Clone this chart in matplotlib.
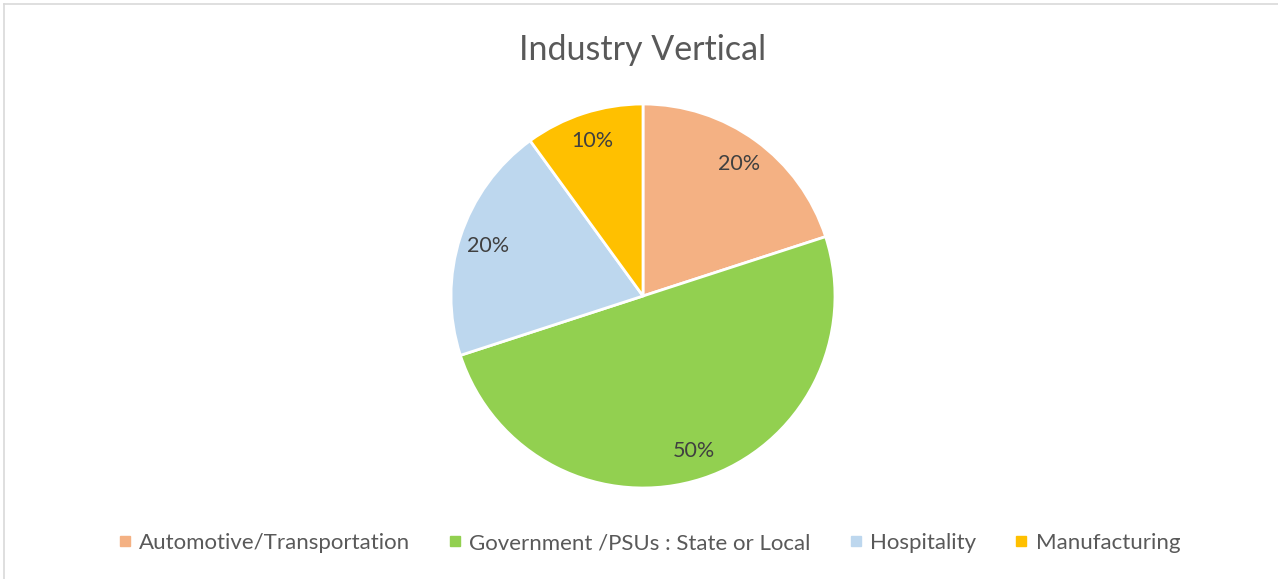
import matplotlib
matplotlib.use("Agg")
from matplotlib import pyplot as plt
from matplotlib.lines import Line2D

categories = ["Automotive/Transportation", "Government /PSUs : State or Local",
              "Hospitality", "Manufacturing"]
shares = [20, 50, 20, 10]
colors = ["#F4B183", "#92D050", "#BDD7EE", "#FFC000"]
title = "Industry Vertical"

plt.rcParams['font.family'] = ['Lato', 'DejaVu Sans']

W, H = 1278, 579
fig = plt.figure(figsize=(W / 100, H / 100), dpi=100)

# frame: only top and left edges are visible in the reference
fig.add_artist(Line2D([4 / W, 4 / W], [0, 1 - 4 / H], transform=fig.transFigure,
                      color="#d9d9d9", lw=1.2))
fig.add_artist(Line2D([4 / W, 1], [1 - 4 / H, 1 - 4 / H], transform=fig.transFigure,
                      color="#d9d9d9", lw=1.2))

cx, cy, r = 643, 296, 192
ax = fig.add_axes([(cx - r) / W, (H - cy - r) / H, 2 * r / W, 2 * r / H])
wedges, texts, autotexts = ax.pie(
    shares, colors=colors, startangle=90, counterclock=False,
    autopct="%d%%", pctdistance=0.85,
    wedgeprops=dict(edgecolor="white", linewidth=2),
    textprops=dict(color="#404040", fontsize=15.5))
ax.set_xlim(-1, 1)
ax.set_ylim(-1, 1)
ax.set_aspect("equal")
ax.axis("off")

fig.text(643 / W, 1 - 50 / H, title, ha="center", va="center",
         fontsize=24.5, color="#595959")

handles = [Line2D([], [], marker="s", linestyle="none", markersize=7,
                  markerfacecolor=c, markeredgecolor=c) for c in colors]
fig.legend(handles, categories, loc="center", bbox_to_anchor=(649 / W, 1 - 543 / H),
           ncol=4, frameon=False, fontsize=16, labelcolor="#595959",
           handlelength=0.6, handletextpad=0.35, columnspacing=1.72)

plt.savefig("out.png", dpi=100)
